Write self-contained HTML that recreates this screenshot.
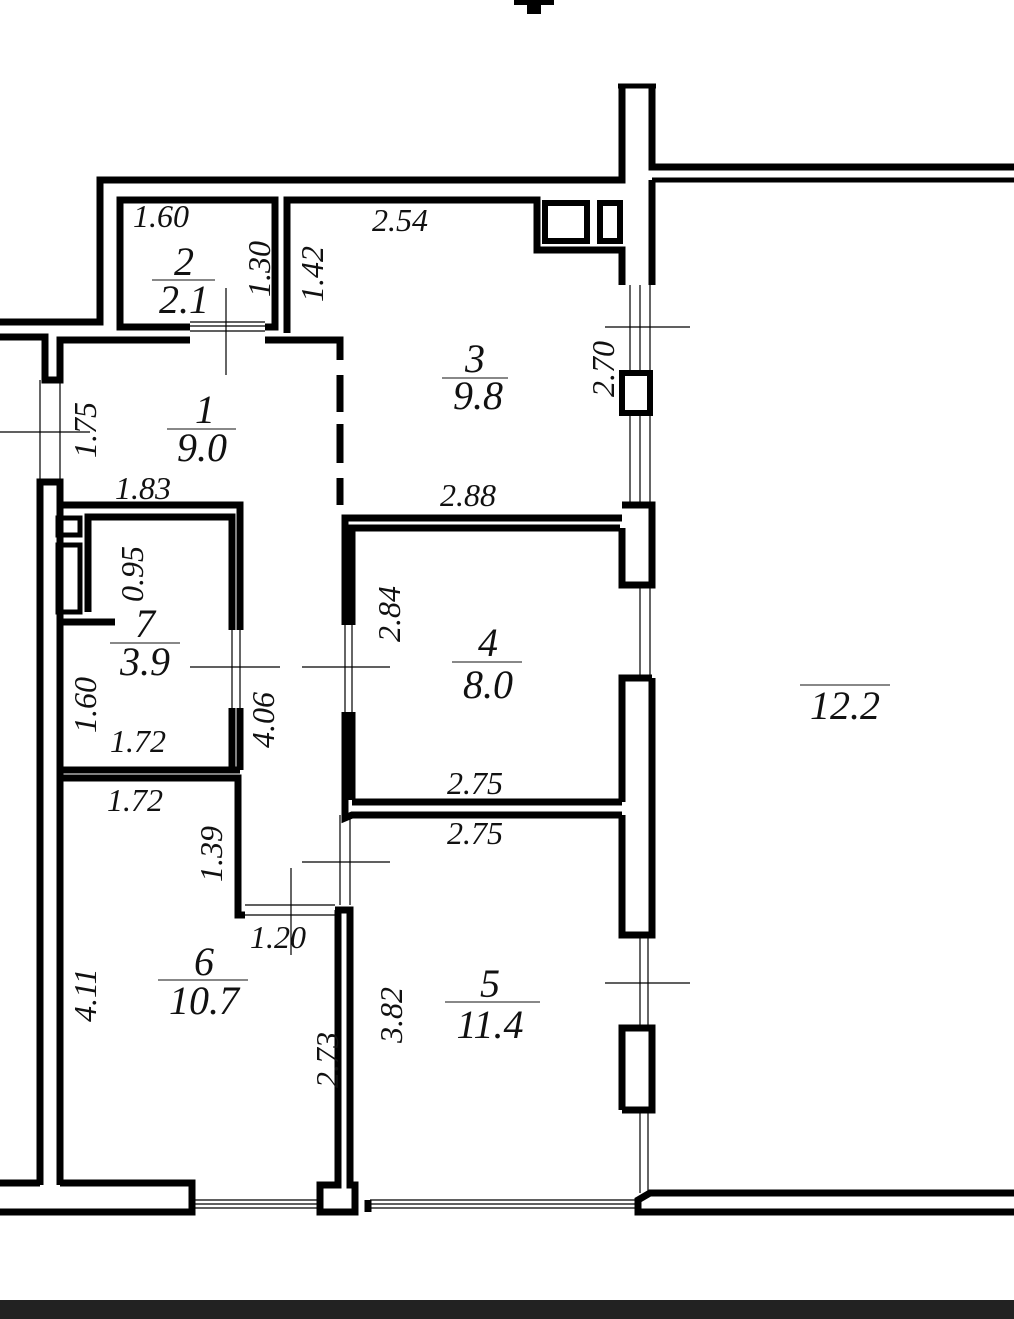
<!DOCTYPE html>
<html><head><meta charset="utf-8"><style>
html,body{margin:0;padding:0;background:#fff;}
svg{display:block}
text{font-family:"Liberation Serif",serif;font-style:italic;fill:#111;}
</style></head><body>
<svg width="1014" height="1319" viewBox="0 0 1014 1319" xmlns="http://www.w3.org/2000/svg">
<g fill="none" stroke="#000" stroke-width="7" stroke-linejoin="miter">
<rect x="514" y="0" width="40" height="5" fill="#000" stroke="none"/>
<rect x="527" y="0" width="14" height="14" fill="#000" stroke="none"/>
<polyline points="0,322 100,322 100,180 622,180 622,86"/>
<polyline points="652,86 652,167 1014,167"/>
<line x1="652" y1="180" x2="1014" y2="180" stroke-width="5"/>
<line x1="618" y1="86" x2="656" y2="86" stroke-width="5"/>
<polyline points="190,327 120,327 120,200 275,200 275,327 265,327"/>
<polyline points="287,333 287,200 537,200 537,250 622,250 622,285"/>
<line x1="652" y1="180" x2="652" y2="285"/>
<rect x="545" y="203" width="42" height="38" stroke-width="6"/>
<rect x="600" y="203" width="20" height="38" stroke-width="6"/>
<rect x="622" y="373" width="28" height="40" stroke-width="6"/>
<polyline points="0,337 45,337 45,380 60,380 60,340 190,340"/>
<polyline points="265,340 340,340 340,360"/>
<line x1="340" y1="375" x2="340" y2="412"/>
<line x1="340" y1="424" x2="340" y2="463"/>
<line x1="340" y1="478" x2="340" y2="505"/>
<polyline points="40,1185 40,482 60,482 60,505 240,505 240,630"/>
<line x1="60" y1="505" x2="60" y2="1185"/>
<polyline points="88,612 88,517 232,517 232,630"/>
<polyline points="60,622 115,622"/>
<rect x="58" y="518" width="22" height="17" stroke-width="5"/>
<rect x="58" y="545" width="22" height="67" stroke-width="5"/>
<line x1="240" y1="708" x2="240" y2="770"/>
<line x1="232" y1="708" x2="232" y2="770"/>
<polyline points="60,770 240,770"/>
<polyline points="60,778 238,778 238,915 245,915"/>
<polyline points="345,625 345,518 622,518"/>
<polyline points="352,625 352,528 620,528"/>
<line x1="345" y1="712" x2="345" y2="808"/>
<line x1="352" y1="712" x2="352" y2="800"/>
<polyline points="352,802 622,802"/>
<polyline points="345,808 345,818 352,815 622,815"/>
<polyline points="622,505 652,505 652,585 622,585 622,528"/>
<polyline points="652,678 622,678 622,802"/>
<polyline points="622,815 622,935 652,935 652,678"/>
<polyline points="622,1110 622,1028 652,1028 652,1110 622,1110"/>
<polyline points="335,910 350,910 350,1185 355,1185 355,1212 320,1212 320,1185 338,1185 338,910"/>
<polyline points="0,1183 40,1183"/>
<polyline points="60,1183 192,1183 192,1212 0,1212"/>
<line x1="368" y1="1200" x2="368" y2="1212"/>
<polyline points="1014,1212 638,1212 638,1200 650,1193 1014,1193"/>
</g>
<g stroke="#000" stroke-width="1.2" fill="none">
<line x1="630" y1="285" x2="630" y2="373"/><line x1="640" y1="285" x2="640" y2="373"/><line x1="650" y1="285" x2="650" y2="373"/>
<line x1="630" y1="413" x2="630" y2="505"/><line x1="640" y1="413" x2="640" y2="505"/><line x1="650" y1="413" x2="650" y2="505"/>
<line x1="640" y1="585" x2="640" y2="678"/><line x1="650" y1="585" x2="650" y2="678"/>
<line x1="640" y1="935" x2="640" y2="1028"/><line x1="648" y1="935" x2="648" y2="1028"/>
<line x1="640" y1="1110" x2="640" y2="1193"/><line x1="648" y1="1110" x2="648" y2="1193"/>
<line x1="190" y1="322" x2="265" y2="322"/><line x1="190" y1="326" x2="265" y2="326"/><line x1="190" y1="331" x2="265" y2="331"/>
<line x1="195" y1="1200" x2="320" y2="1200"/><line x1="195" y1="1204" x2="320" y2="1204"/><line x1="195" y1="1208" x2="320" y2="1208"/>
<line x1="370" y1="1200" x2="636" y2="1200"/><line x1="370" y1="1204" x2="636" y2="1204"/><line x1="370" y1="1208" x2="636" y2="1208"/>
<line x1="40" y1="380" x2="40" y2="482"/><line x1="60" y1="380" x2="60" y2="482"/>
<line x1="232" y1="630" x2="232" y2="708"/><line x1="240" y1="630" x2="240" y2="708"/>
<line x1="345" y1="625" x2="345" y2="712"/><line x1="352" y1="625" x2="352" y2="712"/>
<line x1="340" y1="815" x2="340" y2="905"/><line x1="350" y1="815" x2="350" y2="905"/>
<line x1="245" y1="905" x2="335" y2="905"/><line x1="245" y1="915" x2="335" y2="915"/>
<line x1="226" y1="288" x2="226" y2="375"/>
<line x1="605" y1="327" x2="690" y2="327"/>
<line x1="0" y1="432" x2="90" y2="432"/>
<line x1="190" y1="667" x2="280" y2="667"/>
<line x1="302" y1="667" x2="390" y2="667"/>
<line x1="302" y1="862" x2="390" y2="862"/>
<line x1="291" y1="868" x2="291" y2="955"/>
<line x1="605" y1="983" x2="690" y2="983"/>
<line x1="152" y1="280" x2="215" y2="280" stroke="#888" stroke-width="2"/>
<line x1="442" y1="378" x2="508" y2="378" stroke="#888" stroke-width="2"/>
<line x1="167" y1="429" x2="236" y2="429" stroke="#888" stroke-width="2"/>
<line x1="110" y1="643" x2="180" y2="643" stroke="#888" stroke-width="2"/>
<line x1="452" y1="662" x2="522" y2="662" stroke="#888" stroke-width="2"/>
<line x1="158" y1="980" x2="248" y2="980" stroke="#888" stroke-width="2"/>
<line x1="445" y1="1002" x2="540" y2="1002" stroke="#888" stroke-width="2"/>
<line x1="800" y1="685" x2="890" y2="685" stroke="#888" stroke-width="2"/>
</g>
<g font-size="32">
<text x="133" y="227">1.60</text>
<text x="372" y="231">2.54</text>
<text x="115" y="499">1.83</text>
<text x="440" y="506">2.88</text>
<text x="110" y="752">1.72</text>
<text x="107" y="811">1.72</text>
<text x="447" y="794">2.75</text>
<text x="447" y="844">2.75</text>
<text x="250" y="948">1.20</text>
<text transform="translate(270,297) rotate(-90)">1.30</text>
<text transform="translate(323,302) rotate(-90)">1.42</text>
<text transform="translate(96,458) rotate(-90)">1.75</text>
<text transform="translate(614,397) rotate(-90)">2.70</text>
<text transform="translate(143,602) rotate(-90)">0.95</text>
<text transform="translate(96,733) rotate(-90)">1.60</text>
<text transform="translate(274,748) rotate(-90)">4.06</text>
<text transform="translate(400,642) rotate(-90)">2.84</text>
<text transform="translate(222,882) rotate(-90)">1.39</text>
<text transform="translate(96,1022) rotate(-90)">4.11</text>
<text transform="translate(338,1088) rotate(-90)">2.73</text>
<text transform="translate(402,1043) rotate(-90)">3.82</text>
</g>
<g font-size="40" text-anchor="middle">
<text x="184" y="275">2</text><text x="184" y="313">2.1</text>
<text x="475" y="372">3</text><text x="478" y="409">9.8</text>
<text x="205" y="423">1</text><text x="202" y="461">9.0</text>
<text x="145" y="637">7</text><text x="145" y="675">3.9</text>
<text x="488" y="656">4</text><text x="488" y="698">8.0</text>
<text x="204" y="975">6</text><text x="204" y="1014">10.7</text>
<text x="490" y="997">5</text><text x="490" y="1038">11.4</text>
<text x="845" y="719">12.2</text>
</g>
<rect x="0" y="1300" width="1014" height="19" fill="#222"/>
</svg>
</body></html>
